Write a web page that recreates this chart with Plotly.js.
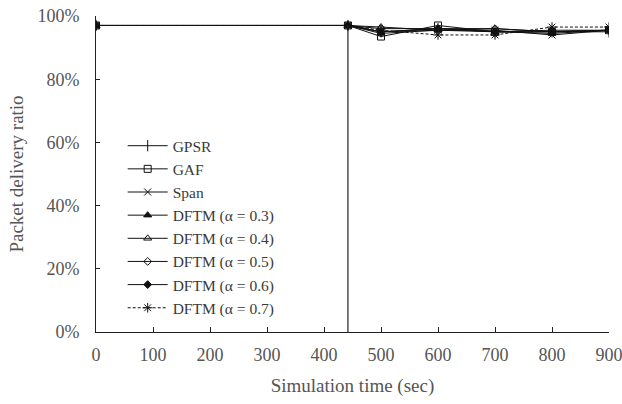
<!DOCTYPE html>
<html><head><meta charset="utf-8">
<script src="https://cdn.plot.ly/plotly-3.0.1.min.js"></script>
<style>html,body{margin:0;padding:0;background:#fff;}#chart{width:622px;height:404px;}</style>
</head><body><div id="chart"></div>
<script>
var times = [0, 442, 500, 600, 700, 800, 900];
var seriesNames = ["GPSR", "GAF", "Span", "DFTM (\u03b1 = 0.3)", "DFTM (\u03b1 = 0.4)", "DFTM (\u03b1 = 0.5)", "DFTM (\u03b1 = 0.6)", "DFTM (\u03b1 = 0.7)"];
var gpsr  = [97, 97, 95.0, 96.0, 95.0, 95.0, 95.0];
var gaf   = [97, 97, 93.5, 97.0, 95.0, 95.0, 95.5];
var span  = [97, 97, 95.0, 95.5, 95.5, 94.0, 95.5];
var a03   = [97, 97, 94.5, 95.5, 95.0, 94.5, 95.5];
var a04   = [97, 97, 96.5, 95.5, 96.0, 95.0, 95.5];
var a05   = [97, 97, 96.0, 96.0, 96.0, 95.0, 95.5];
var a06   = [97, 97, 95.0, 96.0, 95.0, 95.5, 95.5];
var a07   = [97, 97, 95.5, 94.0, 94.0, 96.5, 96.5];
var dividerX = [442, 442];
var dividerY = [0, 97];
var xTicks = [0, 100, 200, 300, 400, 500, 600, 700, 800, 900];
var yTicks = [0, 20, 40, 60, 80, 100];
var yTickText = ["0%", "20%", "40%", "60%", "80%", "100%"];

var allData = [gpsr, gaf, span, a03, a04, a05, a06, a07];
var symbols = ["line-ns-open", "square-open", "x-thin-open", "triangle-up", "triangle-up-open", "diamond-open", "diamond", "asterisk-open"];
var sizes = [8, 7, 7, 7, 7, 6, 6, 8];
var dashes = ["solid","solid","solid","solid","solid","solid","solid","3px,2px"];

var traces = [];
for (var i = 0; i < allData.length; i++) {
  traces.push({
    x: times, y: allData[i], name: seriesNames[i], type: "scatter", mode: "lines+markers",
    line: {color: "#111", width: 1, dash: dashes[i]},
    marker: {symbol: symbols[i], size: sizes[i], color: "#111", line: {color: "#111", width: 1}}
  });
}
traces.push({x: dividerX, y: dividerY, mode: "lines", line: {color: "#222", width: 1.2}, showlegend: false, hoverinfo: "skip"});

var fam = "'Liberation Serif', 'Times New Roman', serif";
var tickFont = {family: fam, size: 18, color: "#555"};
var titleFont = {family: fam, size: 19, color: "#555"};
var layout = {
  width: 622, height: 404,
  margin: {l: 96, r: 13, t: 16, b: 72},
  paper_bgcolor: "#fff", plot_bgcolor: "#fff",
  font: tickFont,
  showlegend: true,
  legend: {x: 0.052, y: 0.642, xanchor: "left", yanchor: "top", bgcolor: "rgba(0,0,0,0)",
           itemwidth: 40,
           font: {family: fam, size: 15.5, color: "#3a3a3a"}, tracegroupgap: 0},
  xaxis: {range: [0, 900], tickvals: xTicks, ticks: "inside", ticklen: 5, tickcolor: "#222",
          showline: true, linecolor: "#222", linewidth: 1, showgrid: false, zeroline: false,
          ticklabelstandoff: 6, ticklabeloverflow: "allow",
          title: {text: "Simulation time (sec)", font: titleFont, standoff: 15}, tickfont: tickFont},
  yaxis: {range: [0, 100], tickvals: yTicks, ticktext: yTickText, ticks: "inside", ticklen: 4, tickcolor: "#222",
          showline: true, linecolor: "#222", linewidth: 1, showgrid: false, zeroline: false,
          ticklabelstandoff: 12,
          title: {text: "Packet delivery ratio", font: titleFont, standoff: 8}, tickfont: tickFont}
};
Plotly.newPlot("chart", traces, layout, {displayModeBar: false, staticPlot: true});
</script>
</body></html>
